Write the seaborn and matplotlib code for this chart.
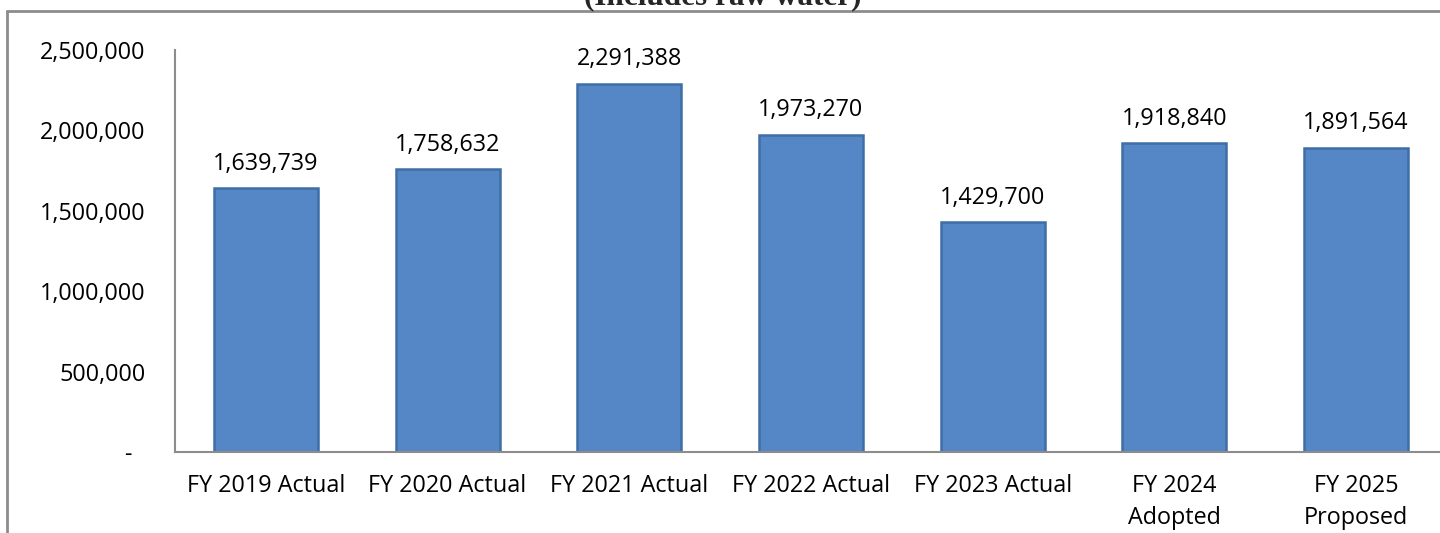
import matplotlib
matplotlib.use("Agg")
import matplotlib.pyplot as plt
from matplotlib.lines import Line2D
from matplotlib.ticker import FixedLocator, FixedFormatter
import seaborn as sns
import pandas as pd

categories = ["FY 2019 Actual", "FY 2020 Actual", "FY 2021 Actual", "FY 2022 Actual",
              "FY 2023 Actual", "FY 2024\nAdopted", "FY 2025\nProposed"]
values = [1639739, 1758632, 2291388, 1973270, 1429700, 1918840, 1891564]
y_ticks = [0, 500000, 1000000, 1500000, 2000000, 2500000]
y_tick_labels = ["-\u2007", "500,000", "1,000,000", "1,500,000", "2,000,000", "2,500,000"]
title = "(Includes raw water)"

sns.set_theme(style="white")
plt.rcParams["font.family"] = ["Open Sans", "DejaVu Sans"]

W, H = 1440, 533
fig = plt.figure(figsize=(W / 100, H / 100), dpi=100)
ax = fig.add_axes([175 / W, (H - 452) / H, 1272 / W, 402 / H])

df = pd.DataFrame({"cat": categories, "val": values})
sns.barplot(data=df, x="cat", y="val", color="#5587C6", width=0.572,
            saturation=1, edgecolor="#3F6EA6", linewidth=1.8, ax=ax)

ax.set_ylim(0, 2500000)
ax.set_xlim(-0.5, 6.5)
ax.yaxis.set_major_locator(FixedLocator(y_ticks))
ax.yaxis.set_major_formatter(FixedFormatter(y_tick_labels))
ax.set_xlabel("")
ax.set_ylabel("")
ax.tick_params(axis="y", length=0, pad=21, labelsize=16.8, colors="black")
ax.tick_params(axis="x", length=0, pad=16, labelsize=16.8, colors="black")
for lbl in ax.get_xticklabels():
    lbl.set_linespacing(1.45)

for s in ["top", "right"]:
    ax.spines[s].set_visible(False)
for s in ["left", "bottom"]:
    ax.spines[s].set_color("#8C8C8C")
    ax.spines[s].set_linewidth(1.5)

for cont in ax.containers:
    ax.bar_label(cont, labels=[f"{v:,.0f}" for v in values], padding=9,
                 fontsize=16.8, color="black")

# outer chart frame (partially cropped)
fig.add_artist(Line2D([7 / W, 7 / W], [0, 1 - 10.5 / H], transform=fig.transFigure,
                      color="#8C8C8C", lw=2))
fig.add_artist(Line2D([7 / W, 1], [1 - 10.5 / H, 1 - 10.5 / H], transform=fig.transFigure,
                      color="#8C8C8C", lw=2))

fig.text(723 / W, 1 - 4 / H, title, ha="center", va="baseline",
         fontsize=22.5, fontweight="bold", family=["Liberation Serif", "DejaVu Serif"])

fig.savefig("out.png", dpi=100)
